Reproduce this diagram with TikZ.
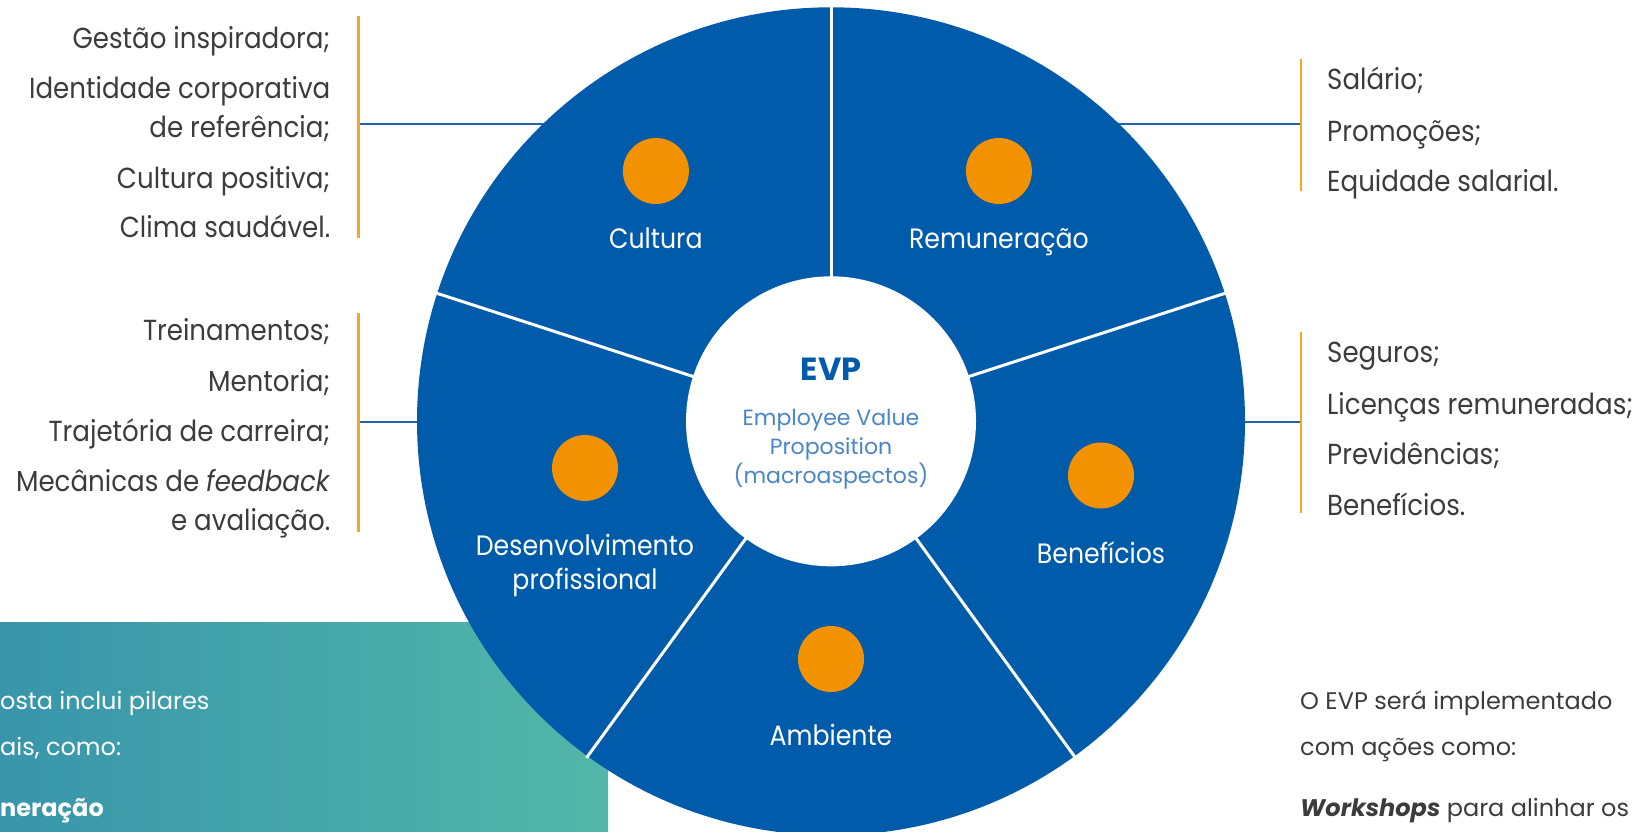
\documentclass[tikz,border=0pt]{standalone}
\usepackage{fontspec}
\setmainfont{Poppins}
\newfontfamily\narrowfont{Poppins}[FakeStretch=0.9]
\usetikzlibrary{calc}
\definecolor{evpblue}{HTML}{005BAA}
\definecolor{dotorange}{HTML}{F39200}
\definecolor{barorange}{HTML}{F5A623}
\definecolor{txtgray}{HTML}{3C3C3C}
\definecolor{lightblue}{HTML}{4A86C5}
\definecolor{tealA}{HTML}{3895AB}
\definecolor{tealB}{HTML}{52B7A8}
\definecolor{connblue}{HTML}{2463AA}
\begin{document}
\begin{tikzpicture}[x=1pt,y=-1pt,
  listtxt/.style={font=\narrowfont\fontsize{29}{34}\selectfont, text=txtgray, inner sep=0pt},
  seclabel/.style={font=\narrowfont\fontsize{28}{34}\selectfont, text=white, inner sep=0pt, anchor=mid},
  dot/.style={circle, fill=dotorange, minimum size=66pt, inner sep=0pt},
  bar/.style={barorange, line width=2.5pt},
  conn/.style={connblue, line width=1.3pt},
  sep/.style={white, line width=3pt},
  smalltxt/.style={font=\fontsize{24}{28}\selectfont, inner sep=0pt, anchor=mid west}]
\useasboundingbox (0,0) rectangle (1635,831);
% teal box
\shade[left color=tealA, right color=tealB] (0,622.5) rectangle (608,831);
\begin{scope}
\clip (0,622.5) rectangle (608,831);
\node[smalltxt, text=white] (t1) at (0,707) {osta inclui pilares};
\node[smalltxt, text=white] (t2) at (0,752.5) {ais, como:};
\node[smalltxt, text=white] (t3) at (0,814) {\textbf{neração}};
\end{scope}
% bottom right text
\node[smalltxt, text=txtgray] (r1) at (1300,707) {O EVP será implementado};
\node[smalltxt, text=txtgray] (r2) at (1300,752.5) {com ações como:};
\node[smalltxt, text=txtgray] (r3) at (1300,814) {\textbf{\textit{Workshops}} para alinhar os};
% connectors
\coordinate (c) at (831,421.3);
\coordinate (barL1) at (358.7,124);
\coordinate (edgeL1) at (545,124);
\coordinate (barR1) at (1301,124);
\coordinate (edgeR1) at (1117,124);
\coordinate (barL2) at (358.7,422);
\coordinate (edgeL2) at (420,422);
\coordinate (barR2) at (1301,422);
\coordinate (edgeR2) at (1242,422);
\draw[conn] (barL1) -- (edgeL1);
\draw[conn] (barR1) -- (edgeR1);
\draw[conn] (barL2) -- (edgeL2);
\draw[conn] (barR2) -- (edgeR2);
% wheel
\fill[evpblue] (c) circle[radius=414pt];
\foreach \a in {90,18,-54,-126,162}
  \draw[sep] ($(c)+(\a:140pt)$) -- ($(c)+(\a:416pt)$);
\node[circle, fill=white, minimum size=290pt, inner sep=0pt] (hub) at (c) {};
\node[font=\fontsize{32}{34}\selectfont\bfseries, text=evpblue, anchor=mid] (evp) at (831,378) {EVP};
\node[font=\fontsize{22}{29}\selectfont, text=lightblue, align=center, anchor=north] (evpsub) at (831,406) {Employee Value\\Proposition\\(macroaspectos)};
% dots and labels
\node[dot] (d1) at (655.9,171) {};
\node[seclabel] (l1) at (655.9,245.7) {Cultura};
\node[dot] (d2) at (998.9,171) {};
\node[seclabel] (l2) at (998.9,245.7) {Remuneração};
\node[dot] (d3) at (585,468) {};
\node[seclabel, align=center, anchor=north] (l3) at (585,534) {Desenvolvimento\\profissional};
\node[dot] (d4) at (1101,475.5) {};
\node[seclabel] (l4) at (1101,560.6) {Benefícios};
\node[dot] (d5) at (831,659) {};
\node[seclabel] (l5) at (831,743) {Ambiente};
% bars
\draw[bar] (358.7,15.6) -- (358.7,237.7);
\draw[bar] (358.7,313) -- (358.7,532);
\draw[bar] (1301,59.4) -- (1301,190.8);
\draw[bar] (1301,331.6) -- (1301,513);
% left lists
\node[listtxt, anchor=mid east] (a1) at (330.5,45.5) {Gestão inspiradora;};
\node[listtxt, anchor=mid east] (a2) at (330.5,95.6) {Identidade corporativa};
\node[listtxt, anchor=mid east] (a3) at (330.5,135) {de referência;};
\node[listtxt, anchor=mid east] (a4) at (330.5,186) {Cultura positiva;};
\node[listtxt, anchor=mid east] (a5) at (330.5,235) {Clima saudável.};
\node[listtxt, anchor=mid east] (b1) at (330.5,337.5) {Treinamentos;};
\node[listtxt, anchor=mid east] (b2) at (330.5,388.6) {Mentoria;};
\node[listtxt, anchor=mid east] (b3) at (330.5,438.6) {Trajetória de carreira;};
\node[listtxt, anchor=mid east] (b4) at (330.5,488.7) {Mecânicas de \textit{feedback}};
\node[listtxt, anchor=mid east] (b5) at (330.5,528) {e avaliação.};
% right lists
\node[listtxt, anchor=mid west] (c1) at (1327,87) {Salário;};
\node[listtxt, anchor=mid west] (c2) at (1327,139) {Promoções;};
\node[listtxt, anchor=mid west] (c3) at (1327,189) {Equidade salarial.};
\node[listtxt, anchor=mid west] (e1) at (1327,360) {Seguros;};
\node[listtxt, anchor=mid west] (e2) at (1327,411.5) {Licenças remuneradas;};
\node[listtxt, anchor=mid west] (e3) at (1327,461.6) {Previdências;};
\node[listtxt, anchor=mid west] (e4) at (1327,512.7) {Benefícios.};
\end{tikzpicture}
\end{document}
